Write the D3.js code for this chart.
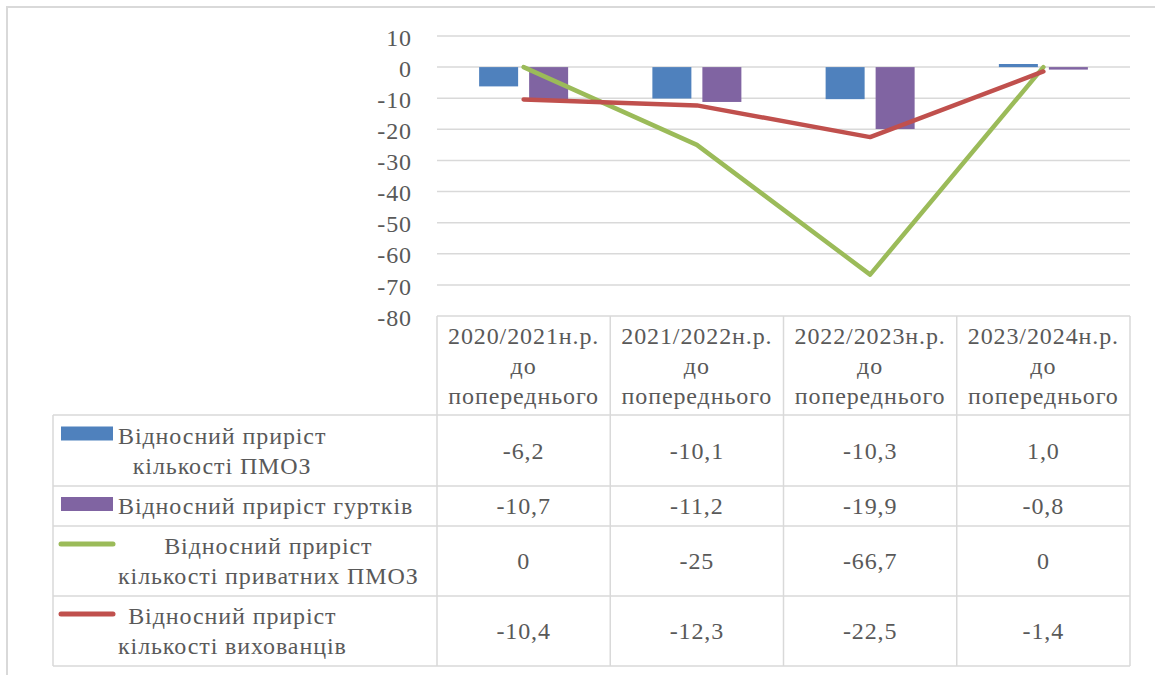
<!DOCTYPE html>
<html lang="uk">
<head>
<meta charset="UTF-8">
<title>Відносний приріст</title>
<script src="https://d3js.org/d3.v7.min.js"></script>
<style>
  body { margin: 0; background: #fff; }
</style>
</head>
<body>
<div id="chart"></div>
<script>
// data
const categories = [
  ["2020/2021н.р.", "до", "попереднього"],
  ["2021/2022н.р.", "до", "попереднього"],
  ["2022/2023н.р.", "до", "попереднього"],
  ["2023/2024н.р.", "до", "попереднього"]
];
const pmozValues = [-6.2, -10.1, -10.3, 1.0];
const gurtkyValues = [-10.7, -11.2, -19.9, -0.8];
const privateValues = [0, -25, -66.7, 0];
const pupilsValues = [-10.4, -12.3, -22.5, -1.4];
const yTicks = [10, 0, -10, -20, -30, -40, -50, -60, -70, -80];

const series = [
  { name: ["Відносний приріст", "кількості ПМОЗ"], values: pmozValues, type: "bar", color: "#4f81bd", dec: 1 },
  { name: ["Відносний приріст гуртків"], values: gurtkyValues, type: "bar", color: "#8064a2", dec: 1 },
  { name: ["Відносний приріст", "кількості приватних ПМОЗ"], values: privateValues, type: "line", color: "#9bbb59", dec: null },
  { name: ["Відносний приріст", "кількості вихованців"], values: pupilsValues, type: "line", color: "#c0504d", dec: 1 }
];

const FONT = "'Liberation Serif', 'Times New Roman', 'DejaVu Serif', serif";
const W = 1155, H = 675;
const plotL = 437, plotR = 1130, plotT = 36, plotB = 316;
const tableL = 53;
const rowLines = [316, 415, 486, 526, 596, 666];
const grid = "#d9d9d9";

const svg = d3.select("#chart").append("svg").attr("width", W).attr("height", H)
  .style("font-family", FONT).style("font-size", "24px");

const styleText = sel => sel.style("font-family", FONT).style("font-size", "24px")
  .style("letter-spacing", "0.9px").style("fill", "#595959");
const addText = (t) => styleText(svg.append("text").text(t));

// outer chart border
svg.append("rect").attr("x", 7).attr("y", 7).attr("width", W).attr("height", H)
  .attr("fill", "none").attr("stroke", grid).attr("stroke-width", 2);

const x = d3.scaleBand().domain(d3.range(categories.length)).range([plotL, plotR]);
const barSeries = series.filter(s => s.type === "bar");
const x1 = d3.scaleBand().domain(d3.range(barSeries.length)).range([0, x.bandwidth()])
  .paddingInner(0.22).paddingOuter(0.8425);
const y = d3.scaleLinear().domain([-80, 10]).range([plotB, plotT]);

// gridlines
svg.append("g").selectAll("line").data(yTicks.filter(t => t !== -80)).join("line")
  .attr("x1", plotL).attr("x2", plotR)
  .attr("y1", d => y(d)).attr("y2", d => y(d))
  .attr("stroke", grid).attr("stroke-width", 1.5);

// y axis labels
const yAxis = d3.axisLeft(y).tickValues(yTicks).tickFormat(d => String(d)).tickSize(0).tickPadding(0);
const ya = svg.append("g").attr("transform", "translate(412,0)").call(yAxis);
ya.select(".domain").remove();
styleText(ya.selectAll("text").attr("dy", "0.38em"));

// bars
barSeries.forEach((s, si) => {
  svg.append("g").selectAll("rect").data(s.values).join("rect")
    .attr("x", (d, i) => x(i) + x1(si))
    .attr("width", x1.bandwidth())
    .attr("y", d => y(Math.max(0, d)))
    .attr("height", d => Math.abs(y(d) - y(0)))
    .attr("fill", s.color);
});

// lines
const line = d3.line().x((d, i) => x(i) + x.bandwidth() / 2).y(d => y(d));
series.filter(s => s.type === "line").forEach(s => {
  svg.append("path").datum(s.values).attr("d", line)
    .attr("fill", "none").attr("stroke", s.color).attr("stroke-width", 4.5)
    .attr("stroke-linecap", "round").attr("stroke-linejoin", "round");
});

// data table
const tg = svg.append("g");
tg.append("line").attr("x1", plotL).attr("x2", plotR).attr("y1", rowLines[0]).attr("y2", rowLines[0]);
rowLines.slice(1).forEach(ry => {
  tg.append("line").attr("x1", tableL).attr("x2", plotR).attr("y1", ry).attr("y2", ry);
});
tg.append("line").attr("x1", tableL).attr("x2", tableL).attr("y1", rowLines[1]).attr("y2", rowLines[5]);
d3.range(categories.length + 1).forEach(i => {
  const cx = plotL + i * x.step();
  tg.append("line").attr("x1", cx).attr("x2", cx).attr("y1", rowLines[0]).attr("y2", rowLines[5]);
});
tg.selectAll("line").attr("stroke", grid).attr("stroke-width", 1.5);

const lineH = 30, base = 8;
// header
categories.forEach((lines, i) => {
  const cy = (rowLines[0] + rowLines[1]) / 2;
  lines.forEach((t, k) => {
    addText(t).attr("x", x(i) + x.bandwidth() / 2)
      .attr("y", cy + (k - (lines.length - 1) / 2) * lineH + base)
      .attr("text-anchor", "middle");
  });
});

// rows
const fmt = (v, dec) => (dec == null ? String(v) : v.toFixed(dec)).replace(".", ",");
series.forEach((s, si) => {
  const cy = (rowLines[si + 1] + rowLines[si + 2]) / 2;
  const firstBase = cy - (s.name.length - 1) / 2 * lineH + base;
  // legend key
  if (s.type === "bar") {
    svg.append("rect").attr("x", 61).attr("y", firstBase - 17).attr("width", 52).attr("height", 14)
      .attr("fill", s.color);
  } else {
    svg.append("line").attr("x1", 61).attr("x2", 113).attr("y1", firstBase - 10).attr("y2", firstBase - 10)
      .attr("stroke", s.color).attr("stroke-width", 5).attr("stroke-linecap", "round");
  }
  // name text, centred on its longest line
  const tmp = s.name.map(t => addText(t));
  const maxW = d3.max(tmp, n => n.node().getComputedTextLength());
  tmp.forEach((n, k) => {
    n.attr("x", 118 + maxW / 2).attr("y", firstBase + k * lineH).attr("text-anchor", "middle");
  });
  // values
  s.values.forEach((v, i) => {
    addText(fmt(v, s.dec)).attr("x", x(i) + x.bandwidth() / 2).attr("y", cy + base)
      .attr("text-anchor", "middle");
  });
});
</script>
</body>
</html>
